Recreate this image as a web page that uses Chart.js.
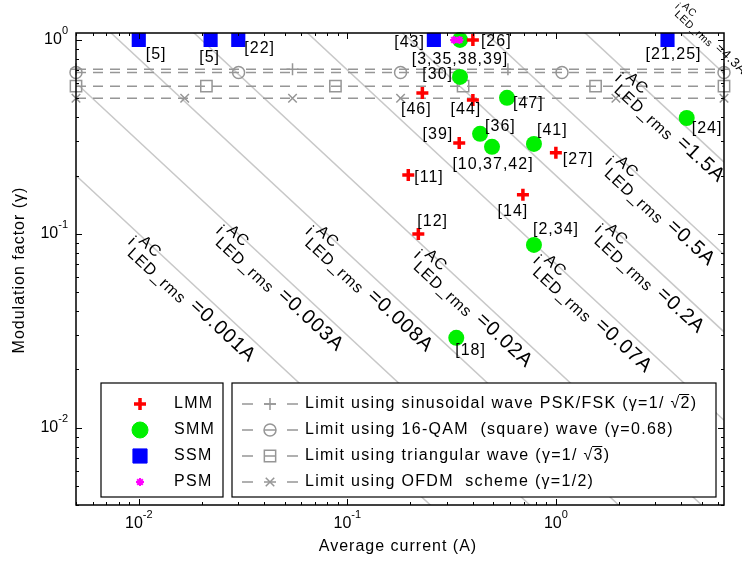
<!DOCTYPE html>
<html>
<head>
<meta charset="utf-8">
<script src="https://cdn.jsdelivr.net/npm/chart.js@4.4.1/dist/chart.umd.min.js"></script>
<style>
  body { margin: 0; background: #fff; }
</style>
</head>
<body>
<canvas id="modChart" width="742" height="565"></canvas>
<script>
// LMM
const lmmCurrent = [0.40, 0.229, 0.40, 0.344, 1.0, 0.196, 0.695, 0.219];
const lmmGamma   = [1.0, 0.533, 0.49, 0.294, 0.262, 0.201, 0.159, 0.10];
const lmmRefs    = ['[26]', '[46]', '[44]', '[39]', '[27]', '[11]', '[14]', '[12]'];

// SMM
const smmCurrent = [0.347, 0.347, 0.583, 4.24, 0.433, 0.494, 0.785, 0.785, 0.333];
const smmGamma   = [1.0, 0.645, 0.503, 0.396, 0.328, 0.281, 0.291, 0.0877, 0.0291];
const smmRefs    = ['[3,35,38,39]', '[30]', '[47]', '[24]', '[36]', '[10,37,42]', '[41]', '[2,34]', '[18]'];

// SSM
const ssmCurrent = [0.01, 0.0221, 0.030, 0.26, 3.43];
const ssmGamma   = [1, 1, 1, 1, 1];
const ssmRefs    = ['[5]', '[5]', '[22]', '[43]', '[21,25]'];

// PSM
const psmCurrent = [0.325, 0.345];
const psmGamma   = [1, 1];

// constant AC rms current contours (gamma * I = i_rms)
const rmsLevels = [0.001, 0.003, 0.008, 0.02, 0.07, 0.2, 0.5, 1.5, 4.3];

// horizontal limits and where their markers sit
const sinGamma  = 1 / Math.SQRT2;
const qamGamma  = 0.68;
const triGamma  = 1 / Math.sqrt(3);
const ofdmGamma = 0.5;
const sinMarks  = [0.005, 0.0546, 0.589, 6.4];
const qamMarks  = [0.005, 0.0301, 0.18, 1.07, 6.4];
const triMarks  = [0.005, 0.0211, 0.0877, 0.359, 1.55, 6.4];
const ofdmMarks = [0.005, 0.0166, 0.0546, 0.18, 0.589, 1.94, 6.4];

const xExps = [-2, -1, 0];
const yExps = [-2, -1, 0];
const xMin = 0.005, xMax = 6.4;
const yMin = 0.004, yMax = 1.086;

// label placement: [dx, dy, align] in pixels from the marker
const lmmRefPos = [[8, 2, 'left'], [-6, 17, 'center'], [-7, 10, 'center'], [-6, -8, 'right'],
                   [7, 7, 'left'], [6, 3, 'left'], [-10, 17, 'center'], [-1, -12, 'left']];
const smmRefPos = [[0, 20, 'center'], [-7, -2, 'right'], [6, 6, 'left'], [5, 11, 'left'], [5, -7, 'left'],
                   [1, 18, 'center'], [3, -13, 'left'], [-1, -15, 'left'], [-1, 13, 'left']];
const ssmRefPos = [[7, 15, 'left'], [-1, 18, 'center'], [6, 9, 'left'], [-9, 3, 'right'], [6, 15, 'center']];
// contour labels: current where the label starts, lift off the line (px), text scale
const rmsLabelAt    = [0.01, 0.0264, 0.071, 0.235, 0.877, 1.73, 1.94, 2.16, 3.36];
const rmsLabelLift  = [0, 0, 0, 0, 0, 0, 0, 0, 24];
const rmsLabelScale = [1, 1, 1, 1, 1, 1, 1, 1, 0.65];

const FONT = '"Liberation Sans", Arial, sans-serif';
const LIMIT_GRAY = 'rgb(150,150,150)';
const GREEN = 'rgb(0,240,0)';

const pts = (xs, ys) => xs.map((v, i) => ({ x: v, y: ys[i] }));

function limitSet(gamma, marks, style, radius) {
  return {
    data: marks.map(v => ({ x: v, y: gamma })),
    showLine: true, borderColor: LIMIT_GRAY, borderWidth: 1.5, borderDash: [10, 7],
    pointStyle: style, pointRadius: radius, pointBorderColor: LIMIT_GRAY,
    pointBackgroundColor: 'rgba(0,0,0,0)', pointBorderWidth: 1.5, clip: false, order: 5
  };
}

const contourSets = rmsLevels.map(c => ({
  data: [{ x: xMin, y: c / xMin }, { x: xMax, y: c / xMax }],
  showLine: true, borderColor: 'rgb(200,200,200)', borderWidth: 1.5, pointRadius: 0, order: 10
}));

function logTicks(scale) {
  const out = [];
  const lo = Math.floor(Math.log10(scale.min)), hi = Math.ceil(Math.log10(scale.max));
  for (let e = lo; e <= hi; e++) {
    for (let m = 1; m < 10; m++) {
      const v = m * Math.pow(10, e);
      if (v >= scale.min && v <= scale.max) out.push({ v: v, major: m === 1 });
    }
  }
  return out;
}

function powerLabel(ctx, exp, x, y, align) {
  ctx.font = '16px ' + FONT;
  const wb = ctx.measureText('10').width;
  ctx.font = '11px ' + FONT;
  const ws = ctx.measureText(String(exp)).width;
  const left = align === 'right' ? x - wb - ws : x - (wb + ws) / 2;
  ctx.textAlign = 'left';
  ctx.font = '16px ' + FONT;
  ctx.fillText('10', left, y);
  ctx.font = '11px ' + FONT;
  ctx.fillText(String(exp), left + wb, y - 9);
}

function marker(ctx, style, radius, x, y, stroke, fill, lw) {
  ctx.save();
  ctx.strokeStyle = stroke;
  ctx.fillStyle = fill;
  ctx.lineWidth = lw;
  Chart.helpers.drawPoint(ctx, { pointStyle: style, radius: radius, rotation: 0, borderWidth: lw }, x, y);
  ctx.restore();
}

function contourLabel(ctx, xs, ys, c, xa, lift, k) {
  const ya = c / xa;
  const px = xs.getPixelForValue(xa), py = ys.getPixelForValue(ya);
  const px2 = xs.getPixelForValue(xa * 10), py2 = ys.getPixelForValue(ya / 10);
  ctx.save();
  ctx.translate(px, py);
  ctx.rotate(Math.atan2(py2 - py, px2 - px));
  ctx.translate(0, -lift);
  ctx.scale(k, k);
  ctx.fillStyle = '#000';
  ctx.textBaseline = 'middle';
  ctx.letterSpacing = '1px';
  ctx.font = '16px ' + FONT;
  ctx.textAlign = 'center';
  ctx.fillText('i', 0, 10);
  ctx.textAlign = 'left';
  ctx.fillText('AC', 5, 2);
  ctx.fillText('LED_rms', 5, 19);
  const w = ctx.measureText('LED_rms').width;
  ctx.font = '20px ' + FONT;
  ctx.fillText('=' + c + 'A', 5 + w + 8, 14);
  ctx.restore();
}

function refLabels(ctx, xs, ys, cur, gam, refs, pos) {
  refs.forEach((t, i) => {
    ctx.textAlign = pos[i][2];
    ctx.fillText(t, xs.getPixelForValue(cur[i]) + pos[i][0], ys.getPixelForValue(gam[i]) + pos[i][1]);
  });
}

// radical with an overline over the digit
function sqrtText(ctx, before, digit, after, x, y) {
  ctx.fillText(before + '\u221A' + digit + after, x, y);
  const w0 = ctx.measureText(before + '\u221A').width;
  const w1 = ctx.measureText(before + '\u221A' + digit).width;
  ctx.beginPath();
  ctx.moveTo(x + w0 - 1.5, y - 9.5);
  ctx.lineTo(x + w1 - 1.5, y - 9.5);
  ctx.lineWidth = 1;
  ctx.strokeStyle = '#000';
  ctx.stroke();
}

const decor = {
  id: 'decor',
  afterDraw(chart) {
    const { ctx, chartArea: a } = chart;
    const xs = chart.scales.x, ys = chart.scales.y;
    ctx.save();

    // contour labels
    rmsLevels.forEach((c, i) => contourLabel(ctx, xs, ys, c, rmsLabelAt[i], rmsLabelLift[i], rmsLabelScale[i]));

    // reference labels
    ctx.fillStyle = '#000';
    ctx.font = '16px ' + FONT;
    ctx.letterSpacing = '1px';
    ctx.textBaseline = 'middle';
    refLabels(ctx, xs, ys, lmmCurrent, lmmGamma, lmmRefs, lmmRefPos);
    refLabels(ctx, xs, ys, smmCurrent, smmGamma, smmRefs, smmRefPos);
    refLabels(ctx, xs, ys, ssmCurrent, ssmGamma, ssmRefs, ssmRefPos);

    // ticks on all four sides, pointing in
    ctx.strokeStyle = '#000';
    ctx.lineWidth = 1;
    ctx.beginPath();
    logTicks(xs).forEach(t => {
      const p = Math.round(xs.getPixelForValue(t.v)) + 0.5, len = t.major ? 6 : 3;
      ctx.moveTo(p, a.bottom); ctx.lineTo(p, a.bottom - len);
      ctx.moveTo(p, a.top); ctx.lineTo(p, a.top + len);
    });
    logTicks(ys).forEach(t => {
      const p = Math.round(ys.getPixelForValue(t.v)) + 0.5, len = t.major ? 6 : 3;
      ctx.moveTo(a.left, p); ctx.lineTo(a.left + len, p);
      ctx.moveTo(a.right, p); ctx.lineTo(a.right - len, p);
    });
    ctx.stroke();
    ctx.lineWidth = 1.5;
    ctx.strokeRect(a.left, a.top, a.right - a.left, a.bottom - a.top);

    // tick labels
    ctx.letterSpacing = '0px';
    ctx.textBaseline = 'middle';
    xExps.forEach(e => powerLabel(ctx, e, xs.getPixelForValue(Math.pow(10, e)), 524, 'center'));
    yExps.forEach(e => powerLabel(ctx, e, 68, ys.getPixelForValue(Math.pow(10, e)), 'right'));

    // axis titles
    ctx.letterSpacing = '1px';
    ctx.font = '16px ' + FONT;
    ctx.textAlign = 'center';
    ctx.fillText('Average current (A)', 398, 547);
    ctx.save();
    ctx.translate(20, 270);
    ctx.rotate(-Math.PI / 2);
    ctx.fillText('Modulation factor (\u03B3)', 0, 0);
    ctx.restore();

    // scheme legend
    const rows = [404, 430, 456, 482];
    ctx.fillStyle = '#fff';
    ctx.fillRect(101, 383, 122, 114);
    ctx.fillRect(232, 383, 484, 114);
    ctx.strokeStyle = '#000';
    ctx.lineWidth = 1.2;
    ctx.strokeRect(101, 383, 122, 114);
    ctx.strokeRect(232, 383, 484, 114);

    marker(ctx, 'cross', 6, 140, rows[0], 'red', 'red', 3.5);
    marker(ctx, 'circle', 8, 140, rows[1], GREEN, GREEN, 1);
    marker(ctx, 'rect', 10, 140, rows[2], 'blue', 'blue', 1);
    marker(ctx, 'star', 4, 140, rows[3], 'magenta', 'magenta', 2);
    ctx.fillStyle = '#000';
    ctx.textAlign = 'left';
    ctx.letterSpacing = '1.3px';
    ['LMM', 'SMM', 'SSM', 'PSM'].forEach((t, i) => ctx.fillText(t, 174, rows[i]));

    // limit legend
    const styles = [['cross', 6], ['circle', 6], ['rect', 8], ['crossRot', 6]];
    styles.forEach((s, i) => {
      ctx.strokeStyle = LIMIT_GRAY;
      ctx.lineWidth = 1.5;
      ctx.beginPath();
      ctx.moveTo(242, rows[i]); ctx.lineTo(253, rows[i]);
      ctx.moveTo(264, rows[i]); ctx.lineTo(276, rows[i]);
      ctx.moveTo(287, rows[i]); ctx.lineTo(298, rows[i]);
      ctx.stroke();
      marker(ctx, s[0], s[1], 270, rows[i], LIMIT_GRAY, 'rgba(0,0,0,0)', 1.5);
    });
    ctx.fillStyle = '#000';
    ctx.font = '16px ' + FONT;
    ctx.letterSpacing = '1.3px';
    ctx.textAlign = 'left';
    sqrtText(ctx, 'Limit using sinusoidal wave PSK/FSK (\u03B3=1/ ', '2', ')', 305, rows[0]);
    ctx.fillText('Limit using 16-QAM  (square) wave (\u03B3=' + qamGamma + ')', 305, rows[1]);
    sqrtText(ctx, 'Limit using triangular wave (\u03B3=1/ ', '3', ')', 305, rows[2]);
    ctx.fillText('Limit using OFDM  scheme (\u03B3=1/2)', 305, rows[3]);

    ctx.restore();
  }
};

new Chart(document.getElementById('modChart'), {
  type: 'scatter',
  data: {
    datasets: [
      { data: pts(psmCurrent, psmGamma), pointStyle: 'star', pointRadius: 4, pointBorderWidth: 2,
        pointBorderColor: 'magenta', pointBackgroundColor: 'magenta', clip: false, order: 0 },
      { data: pts(lmmCurrent, lmmGamma), pointStyle: 'cross', pointRadius: 6, pointBorderWidth: 3.5,
        pointBorderColor: 'red', pointBackgroundColor: 'red', clip: false, order: 1 },
      { data: pts(ssmCurrent, ssmGamma), pointStyle: 'rect', pointRadius: 10, pointBorderWidth: 0,
        pointBorderColor: 'blue', pointBackgroundColor: 'blue', clip: false, order: 2 },
      { data: pts(smmCurrent, smmGamma), pointStyle: 'circle', pointRadius: 8, pointBorderWidth: 0,
        pointBorderColor: GREEN, pointBackgroundColor: GREEN, clip: false, order: 3 },
      limitSet(sinGamma, sinMarks, 'cross', 6),
      limitSet(qamGamma, qamMarks, 'circle', 6),
      limitSet(triGamma, triMarks, 'rect', 8),
      limitSet(ofdmGamma, ofdmMarks, 'crossRot', 6),
      ...contourSets
    ]
  },
  options: {
    responsive: false,
    animation: false,
    events: [],
    layout: { padding: { top: 33, right: 18, left: 0, bottom: 0 } },
    plugins: { legend: { display: false }, tooltip: { enabled: false } },
    scales: {
      x: {
        type: 'logarithmic', min: xMin, max: xMax,
        grid: { display: false }, border: { display: false }, ticks: { display: false },
        afterFit: s => { s.height = 60; }
      },
      y: {
        type: 'logarithmic', min: yMin, max: yMax,
        grid: { display: false }, border: { display: false }, ticks: { display: false },
        afterFit: s => { s.width = 76; }
      }
    }
  },
  plugins: [decor]
});
</script>
</body>
</html>
